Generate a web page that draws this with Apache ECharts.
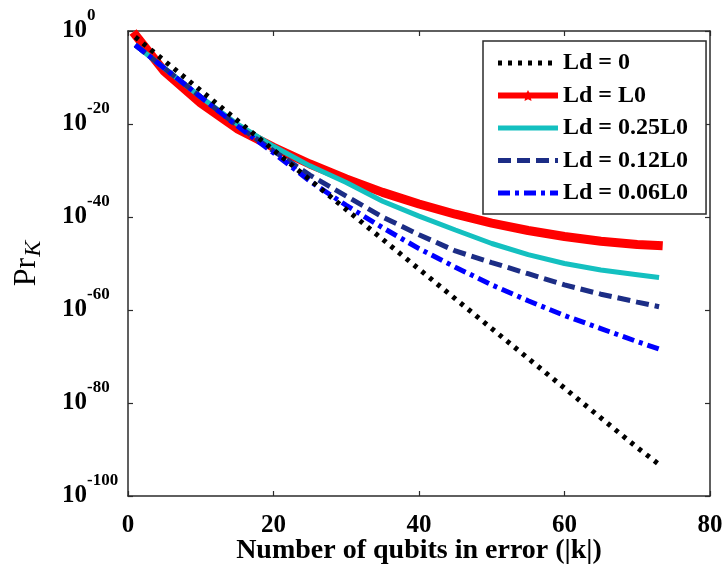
<!DOCTYPE html>
<html>
<head>
<meta charset="utf-8">
<script src="https://cdn.jsdelivr.net/npm/echarts@6/dist/echarts.min.js"></script>
<style>
  html, body { margin: 0; padding: 0; background: #fff; }
  #chart { width: 728px; height: 567px; }
</style>
</head>
<body>
<div id="chart"></div>
<script>
// number of qubits in error |k|
var kValues = [1, 5, 10, 15, 20, 25, 30, 35, 40, 45, 50, 55, 60, 65, 70, 73];
var kRed = [0.7, 5, 10, 15, 20, 25, 30, 35, 40, 45, 50, 55, 60, 65, 70, 73.5];

// exponents of Pr_K (value shown is 10^x)
var ld0 = [-1.3, -6.4, -12.8, -19.2, -25.6, -32, -38.4, -44.8, -51.2, -57.6, -64, -70.4, -76.8, -83.2, -89.6, -93.2];
var ldL0 = [-0.2, -8.7, -15.5, -21, -25, -28.6, -31.8, -34.7, -37.2, -39.4, -41.3, -42.9, -44.2, -45.2, -45.9, -46.2];
var ld025 = [-3, -8, -14.2, -20, -24.8, -29, -32.6, -36.6, -39.8, -42.8, -45.7, -48.1, -50, -51.4, -52.4, -53];
var ld012 = [-3, -8, -14.2, -20.3, -25.8, -31, -35.5, -40, -43.8, -47.3, -49.8, -52.2, -54.6, -56.6, -58.3, -59.3];
var ld006 = [-3, -8, -14.2, -20.4, -26.2, -32.3, -37.5, -42.3, -46.8, -50.8, -54.6, -58, -61.2, -64, -66.8, -68.4];

var names = ['Ld = 0', 'Ld = L0', 'Ld = 0.25L0', 'Ld = 0.12L0', 'Ld = 0.06L0'];
var xTicks = [0, 20, 40, 60, 80];
var yTicks = [-100, -80, -60, -40, -20, 0];

function pairs(xs, ys) {
    var out = [];
    for (var i = 0; i < ys.length; i++) out.push([xs[i], ys[i]]);
    return out;
}

var serif = 'Liberation Serif';
var axisColor = '#2b2b2b';
var star = 'path://M0,-10 L2.9,-4 L9.5,-3.1 L4.7,1.5 L5.9,8.1 L0,5 L-5.9,8.1 L-4.7,1.5 L-9.5,-3.1 L-2.9,-4 Z';

var chart = echarts.init(document.getElementById('chart'), null, {renderer: 'canvas'});

function frameAxis(extra) {
    var ax = {
        type: 'value',
        interval: 20,
        axisLine: {show: true, onZero: false, lineStyle: {color: axisColor, width: 1.5}},
        axisTick: {show: true, inside: true, length: 5, lineStyle: {color: axisColor, width: 1.2}},
        axisLabel: {show: false},
        splitLine: {show: false}
    };
    for (var key in extra) ax[key] = extra[key];
    return ax;
}

var option = {
    backgroundColor: '#fff',
    animation: false,
    grid: {left: 128, right: 18, top: 31, bottom: 71, containLabel: false, outerBoundsMode: 'none'},
    legend: {
        orient: 'vertical',
        left: 483,
        top: 41,
        padding: [10, 18, 9, 12],
        itemGap: 8.5,
        itemWidth: 60,
        itemHeight: 14,
        backgroundColor: '#fff',
        borderColor: axisColor,
        borderWidth: 1.5,
        borderRadius: 0,
        textStyle: {fontFamily: serif, fontWeight: 'bold', fontSize: 24, color: '#000'},
        data: [
            {name: names[0], itemStyle: {opacity: 0}, lineStyle: {width: 5}},
            {name: names[1], lineStyle: {width: 6}},
            {name: names[2], itemStyle: {opacity: 0}, lineStyle: {width: 5}},
            {name: names[3], itemStyle: {opacity: 0}, lineStyle: {width: 5}},
            {name: names[4], itemStyle: {opacity: 0}, lineStyle: {width: 5}}
        ]
    },
    xAxis: [frameAxis({
        min: xTicks[0],
        max: xTicks[xTicks.length - 1],
        name: 'Number of qubits in error (|k|)',
        nameLocation: 'middle',
        nameGap: 41,
        nameMoveOverlap: false,
        nameTextStyle: {fontFamily: serif, fontWeight: 'bold', fontSize: 28, color: '#000'},
        axisLabel: {show: true, fontFamily: serif, fontWeight: 'bold', fontSize: 25, color: '#000', margin: 17}
    }), frameAxis({
        position: 'top',
        min: xTicks[0],
        max: xTicks[xTicks.length - 1]
    })],
    yAxis: [frameAxis({
        min: yTicks[0],
        max: yTicks[yTicks.length - 1],
        name: '{p|Pr}{k|K}',
        nameLocation: 'middle',
        nameGap: 82,
        nameMoveOverlap: false,
        nameTextStyle: {
            color: '#000',
            rich: {
                p: {fontFamily: serif, fontSize: 32, color: '#000'},
                k: {fontFamily: serif, fontSize: 24, fontStyle: 'italic', color: '#000', padding: [14, 0, 0, 1]}
            }
        },
        axisLabel: {
            show: true,
            align: 'left',
            margin: 66,
            formatter: function (v) { return '{b|10}{s|' + v + '}'; },
            rich: {
                b: {fontFamily: serif, fontWeight: 'bold', fontSize: 25, color: '#000'},
                s: {fontFamily: serif, fontWeight: 'bold', fontSize: 17, color: '#000', padding: [0, 0, 30, 0]}
            }
        }
    }), frameAxis({
        position: 'right',
        min: yTicks[0],
        max: yTicks[yTicks.length - 1]
    })],
    series: [{
        name: names[0],
        type: 'line',
        data: pairs(kValues, ld0),
        symbol: 'none',
        color: '#000',
        lineStyle: {color: '#000', width: 5, type: [4, 6], cap: 'butt'},
        z: 6
    }, {
        name: names[1],
        type: 'line',
        data: pairs(kRed, ldL0),
        symbol: star,
        symbolSize: 11,
        showSymbol: false,
        color: '#ff0000',
        itemStyle: {color: '#ff0000'},
        lineStyle: {color: '#ff0000', width: 9},
        z: 2
    }, {
        name: names[2],
        type: 'line',
        data: pairs(kValues, ld025),
        symbol: 'none',
        color: '#14c0c0',
        lineStyle: {color: '#14c0c0', width: 5},
        z: 3
    }, {
        name: names[3],
        type: 'line',
        data: pairs(kValues, ld012),
        symbol: 'none',
        color: '#1c2d86',
        lineStyle: {color: '#1c2d86', width: 5, type: [13, 6], cap: 'butt'},
        z: 4
    }, {
        name: names[4],
        type: 'line',
        data: pairs(kValues, ld006),
        symbol: 'none',
        color: '#0000ff',
        lineStyle: {color: '#0000ff', width: 5, type: [12, 5, 4, 5], cap: 'butt'},
        z: 5
    }]
};

chart.setOption(option);
</script>
</body>
</html>
